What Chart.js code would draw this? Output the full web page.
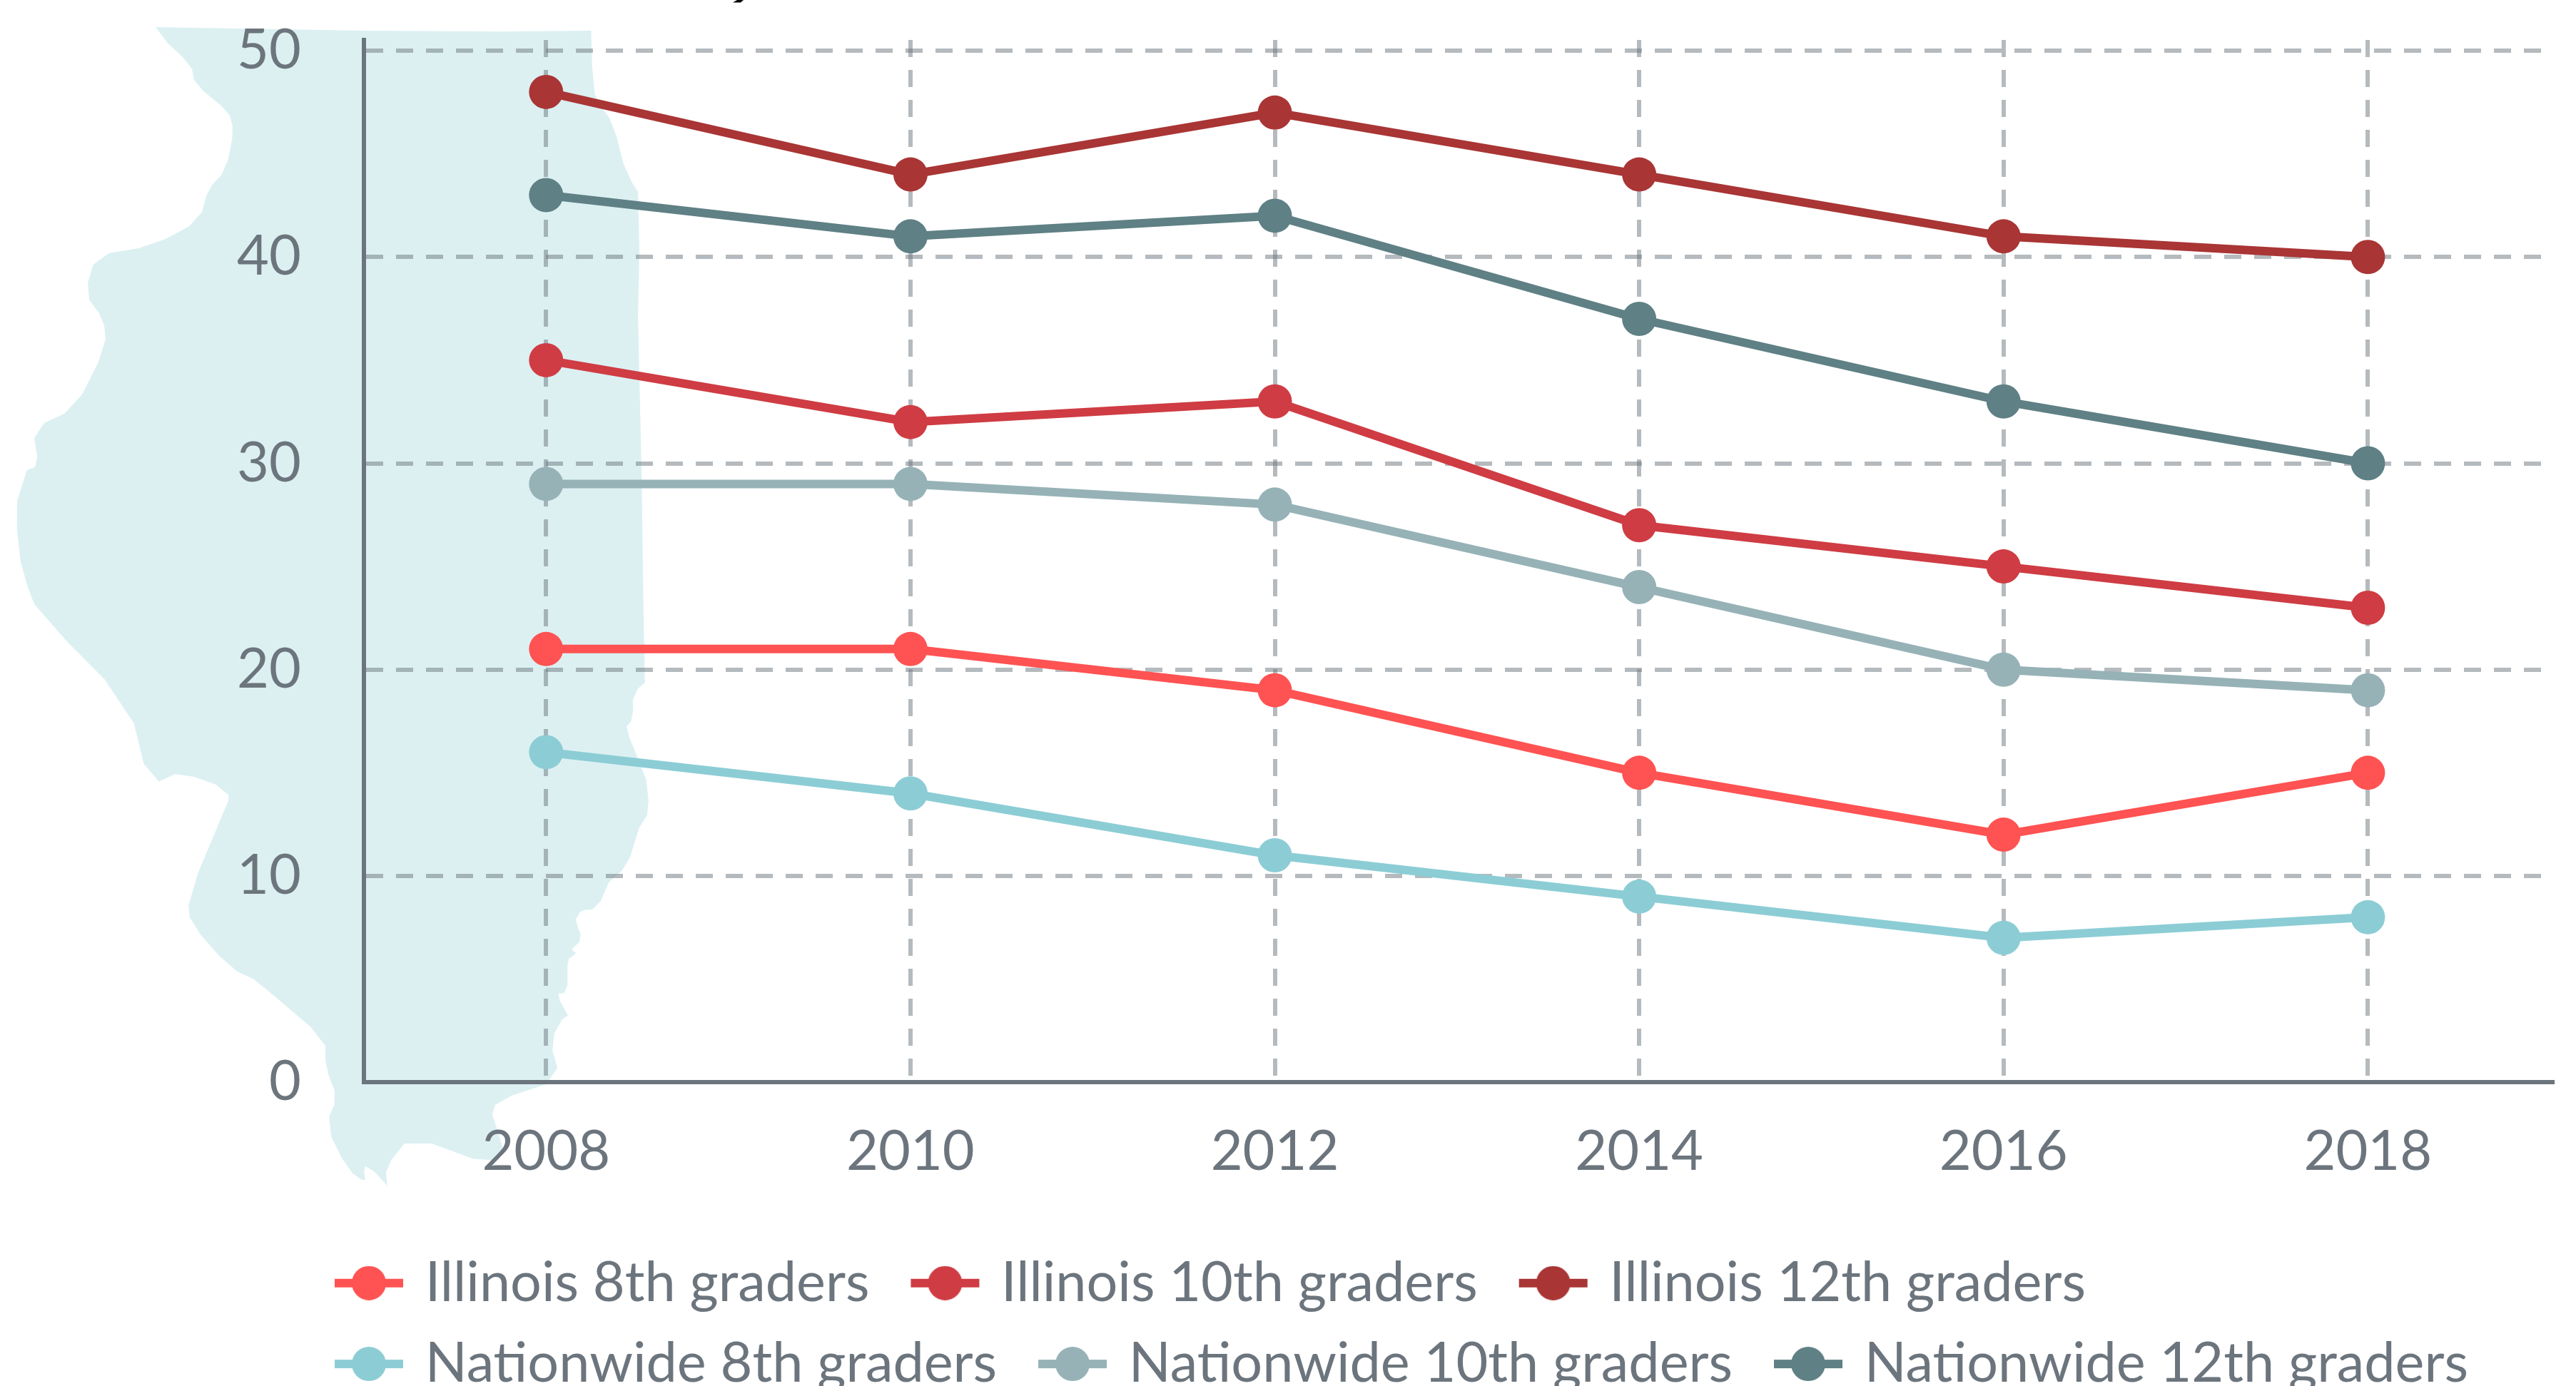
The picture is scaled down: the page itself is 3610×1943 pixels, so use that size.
<!DOCTYPE html>
<html><head><meta charset="utf-8">
<style>html,body{margin:0;padding:0;background:#fff;overflow:hidden}canvas{display:block}</style>
<script src="https://cdn.jsdelivr.net/npm/chart.js@4/dist/chart.umd.min.js"></script>
</head><body>
<canvas id="c" width="3610" height="1943"></canvas>
<script>
const years = [2008, 2010, 2012, 2014, 2016, 2018];
const yTicks = [0, 10, 20, 30, 40, 50];
const illinois8 = [21, 21, 19, 15, 12, 15];
const illinois10 = [35, 32, 33, 27, 25, 23];
const illinois12 = [48, 44, 47, 44, 41, 40];
const nationwide8 = [16, 14, 11, 9, 7, 8];
const nationwide10 = [29, 29, 28, 24, 20, 19];
const nationwide12 = [43, 41, 42, 37, 33, 30];
const seriesNames = ['Illinois 8th graders','Illinois 10th graders','Illinois 12th graders','Nationwide 8th graders','Nationwide 10th graders','Nationwide 12th graders'];
const seriesValues = [illinois8, illinois10, illinois12, nationwide8, nationwide10, nationwide12];
const seriesColors = ['#ff5252','#cf3c43','#a93535','#8ccdd5','#96b2b7','#5f8085'];
const textColor = '#6c757d';
const gridColor = 'rgba(108,117,125,0.5)';
const FONT = 'Lato';

// Decorative Illinois silhouette behind the plot (page pixels)
const outlineA = [[342,66],[800,75],[1100,77],[1299,75],[1301,160],[1307,230],[1322,262],[1339,288],[1354,330],[1370,400],[1390,448],[1402,468],[1405,610],[1402,770],[1410,1165],[1415,1568]];
const outlineB = [[1416,0],[1417,112],[1402,128],[1391,158],[1391,190],[1387,218],[1377,232],[1383,262],[1397,305],[1420,378],[1425,435],[1422,476],[1404,512],[1385,590],[1367,628],[1338,660],[1320,712],[1302,735],[1285,736],[1275,742],[1265,762],[1270,785],[1276,802],[1273,825],[1258,842],[1258,848],[1266,853],[1260,862],[1250,870],[1247,890],[1247,942],[1240,965],[1227,966],[1230,985],[1248,1026],[1236,1036],[1218,1075],[1214,1122],[1225,1170],[1200,1215],[1125,1246],[1088,1272],[1082,1298],[1105,1390],[1085,1424],[1040,1420],[948,1378],[889,1378],[860,1423],[848,1458],[851,1494],[822,1455],[803,1440],[800,1455],[803,1478],[795,1478],[775,1460],[752,1420],[728,1360],[723,1305],[735,1270],[735,1232],[722,1190],[715,1150],[715,1110],[682,1057],[605,975],[557,926],[521,905],[482,863],[440,803],[417,757],[414,725],[435,635],[502,435],[502,420],[473,391],[425,370],[385,363],[349,383],[316,335],[294,223],[230,103],[148,0]];
const outlineC = [[148,1568],[75,1475],[60,1430],[45,1370],[37,1290],[38,1222],[59,1148],[77,1141],[82,1115],[75,1070],[97,1033],[142,1010],[181,962],[216,885],[232,828],[229,795],[218,765],[196,732],[193,690],[205,646],[240,618],[305,606],[363,584],[415,553],[444,518],[454,476],[467,450],[487,427],[501,390],[510,340],[511,308],[505,282],[485,257],[448,224],[426,195],[422,168],[401,139],[368,105]];
const silhouette = [
  ...outlineA.map(p=>[p[0]/1.568,p[1]/1.742]),
  ...outlineB.map(p=>[p[0]/1.568,900+p[1]/1.96]),
  ...outlineC.map(p=>[p[0]/1.568,p[1]/1.742])
];
const croppedTitleFragment = [[1027,3.5],[1033,0],[1042,0],[1038,3.5]];

function fillShape(ctx, pts, color){
  ctx.fillStyle = color;
  ctx.beginPath();
  pts.forEach((p,i)=> i ? ctx.lineTo(p[0],p[1]) : ctx.moveTo(p[0],p[1]));
  ctx.closePath();
  ctx.fill();
}
const backdrop = {
  id:'backdrop',
  beforeDraw(chart){
    const ctx = chart.ctx;
    ctx.save();
    fillShape(ctx, silhouette, '#dcf0f2');
    fillShape(ctx, croppedTitleFragment, '#000');
    ctx.restore();
  }
};
const legendPlace = {
  id:'legendPlace',
  afterLayout(chart){
    const l = chart.legend;
    l.left = 411;
    l.top = 1724;
  }
};

function legendSwatch(color){
  const c = document.createElement('canvas');
  c.width = 132; c.height = 48;
  const g = c.getContext('2d');
  g.fillStyle = color;
  g.fillRect(33, 18, 96, 12);
  g.beginPath(); g.arc(81, 24, 24, 0, Math.PI*2); g.fill();
  return c;
}
function noScalePadding(s){
  s.paddingTop = 0; s.paddingBottom = 0; s.paddingLeft = 0; s.paddingRight = 0;
}

new Chart(document.getElementById('c'), {
  type:'line',
  data:{
    datasets: seriesNames.map((name,i)=>({
      label:name,
      data: years.map((y,j)=>({x:y,y:seriesValues[i][j]})),
      borderColor: seriesColors[i],
      backgroundColor: seriesColors[i],
      pointBackgroundColor: seriesColors[i],
      pointBorderWidth:0,
      pointRadius:24,
      borderWidth:12,
      tension:0,
      fill:false,
      clip:false
    }))
  },
  options:{
    responsive:false,
    animation:false,
    devicePixelRatio:1,
    layout:{autoPadding:false,padding:{top:56,right:33,left:0,bottom:0}},
    plugins:{
      tooltip:{enabled:false},
      title:{display:false},
      legend:{
        position:'bottom',
        align:'start',
        labels:{
          color:textColor,
          font:{family:FONT,size:77.4,weight:'400'},
          usePointStyle:true,
          pointStyleWidth:110,
          boxHeight:78,
          padding:36,
          generateLabels(chart){
            return chart.data.datasets.map((d,i)=>({
              text:d.label, datasetIndex:i, fontColor:textColor,
              pointStyle:legendSwatch(seriesColors[i]), lineWidth:0, hidden:false
            }));
          }
        }
      }
    },
    scales:{
      x:{
        type:'linear',min:2007,max:2019.013,
        afterBuildTicks(s){ s.ticks = years.map(v=>({value:v})); },
        afterFit(s){ s.height = 189; noScalePadding(s); },
        grid:{color:gridColor,lineWidth:6,drawTicks:false},
        border:{display:true,color:textColor,width:6,dash:[24,18]},
        ticks:{color:textColor,font:{family:FONT,size:77.5,weight:'400'},padding:51,maxRotation:0,autoSkip:false,callback:v=>String(v)}
      },
      y:{
        type:'linear',min:0,max:50.52,
        afterBuildTicks(s){ s.ticks = yTicks.map(v=>({value:v})); },
        afterFit(s){ s.width = 510; noScalePadding(s); },
        grid:{color:gridColor,lineWidth:6,drawTicks:false},
        border:{display:true,color:textColor,width:6,dash:[24,18]},
        ticks:{color:textColor,font:{family:FONT,size:77.5,weight:'400'},padding:88,callback:v=>String(v)}
      }
    }
  },
  plugins:[backdrop,legendPlace]
});
</script>
</body></html>
